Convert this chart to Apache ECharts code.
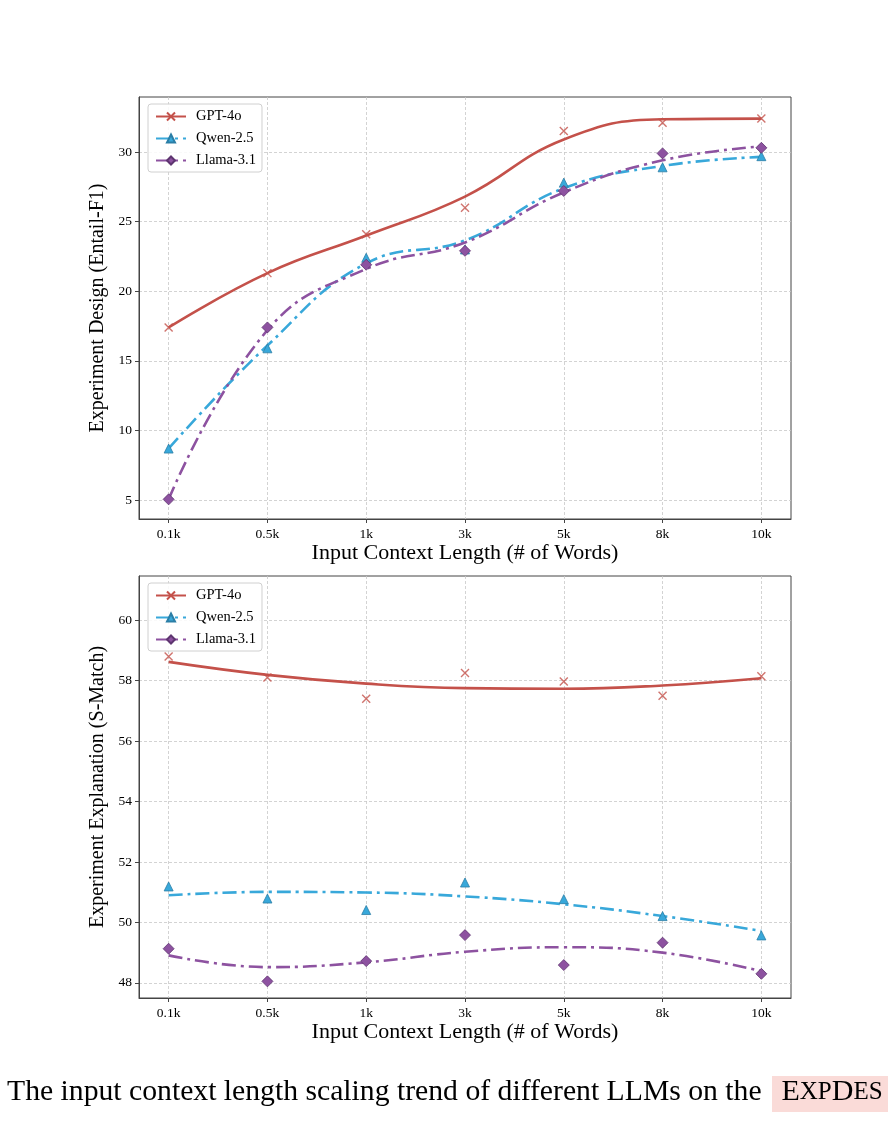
<!DOCTYPE html>
<html>
<head>
<meta charset="utf-8">
<title>Context length scaling</title>
<script src="https://cdn.jsdelivr.net/npm/echarts@6/dist/echarts.min.js"></script>
<style>
  html, body { margin: 0; padding: 0; background: #fff; }
  #chart { width: 888px; height: 1139px; }
</style>
</head>
<body>
<div id="chart"></div>
<script>
// x categories
var lengths = ['0.1k', '0.5k', '1k', '3k', '5k', '8k', '10k'];
var models = ['GPT-4o', 'Qwen-2.5', 'Llama-3.1'];

// top panel: Experiment Design (Entail-F1), measured points
var designGpt   = [17.4, 21.3, 24.1, 26.0, 31.5, 32.1, 32.4];
var designQwen  = [8.7, 15.9, 22.4, 23.0, 27.8, 28.9, 29.7];
var designLlama = [5.05, 17.4, 21.9, 22.9, 27.2, 29.9, 30.3];
// top panel: smoothed trend curves read at each tick
var designGptFit   = [17.4, 21.3, 24.0, 26.8, 30.9, 32.35, 32.4];
var designQwenFit  = [8.7, 16.1, 22.0, 23.65, 27.4, 29.0, 29.65];
var designLlamaFit = [5.05, 17.2, 21.6, 23.5, 27.1, 29.4, 30.4];

// bottom panel: Experiment Explanation (S-Match), measured points
var explGpt   = [58.8, 58.1, 57.4, 58.25, 57.97, 57.5, 58.14];
var explQwen  = [51.19, 50.79, 50.41, 51.32, 50.77, 50.21, 49.57];
var explLlama = [49.13, 48.05, 48.72, 49.58, 48.59, 49.33, 48.3];
// bottom panel: fitted trend curves read at each tick
var explGptFit   = [58.62, 58.19, 57.9, 57.75, 57.73, 57.84, 58.08];
var explQwenFit  = [50.9, 51.01, 50.99, 50.86, 50.6, 50.21, 49.72];
var explLlamaFit = [48.91, 48.52, 48.68, 49.03, 49.18, 49.0, 48.39];

var designTicks = [5, 10, 15, 20, 25, 30];
var explTicks = [48, 50, 52, 54, 56, 58, 60];

var serif = 'Liberation Serif';
var colors = ['#c4514a', '#38a8da', '#8d52a0'];
var edges = ['#c4514a', '#2b7ea6', '#5e3570'];
var symbols = ['path://M0,0L10,10M10,0L0,10', 'triangle', 'diamond'];
var sizes = [8, 9, 11];
var dashes = ['solid', [14, 5, 3, 5], [14, 5, 3, 5]];

var chart = echarts.init(document.getElementById('chart'), null, { renderer: 'canvas' });

function xAxisFor(gi) {
  return {
    type: 'value', gridIndex: gi, min: -0.3, max: 6.3,
    name: 'Input Context Length (# of Words)', nameLocation: 'middle', nameGap: 19,
    nameTextStyle: { fontFamily: serif, fontSize: 22, color: '#000' },
    axisLine: { show: true, onZero: false, lineStyle: { color: '#444', width: 1 } },
    axisTick: { show: true, length: 4, lineStyle: { color: '#444' }, customValues: [0, 1, 2, 3, 4, 5, 6] },
    axisLabel: { fontFamily: serif, fontSize: 13.5, color: '#000', margin: 8,
      customValues: [0, 1, 2, 3, 4, 5, 6],
      formatter: function (v) { return lengths[Math.round(v)]; } },
    splitLine: { show: true, lineStyle: { color: '#c8c8c8', type: [3, 2], width: 0.8 } }
  };
}

function yAxisFor(gi, lo, hi, ticks, name) {
  return {
    type: 'value', gridIndex: gi, min: lo, max: hi,
    name: name, nameLocation: 'middle', nameGap: 23,
    nameTextStyle: { fontFamily: serif, fontSize: 20, color: '#000' },
    axisLine: { show: true, onZero: false, lineStyle: { color: '#444', width: 1 } },
    axisTick: { show: true, length: 4, lineStyle: { color: '#444' }, customValues: ticks },
    axisLabel: { fontFamily: serif, fontSize: 13.5, color: '#000', margin: 7, customValues: ticks },
    splitLine: { show: true, lineStyle: { color: '#c8c8c8', type: [3, 2], width: 0.8 } }
  };
}

var series = [];
function addPanel(gi, fits, points) {
  fits.forEach(function (fit, i) {
    series.push({
      name: models[i], type: 'line', xAxisIndex: gi, yAxisIndex: gi,
      data: fit.map(function (v, k) { return [k, v]; }),
      smooth: 0.45, showSymbol: false, symbol: symbols[i], symbolSize: sizes[i],
      itemStyle: { color: colors[i], borderColor: edges[i], borderWidth: i === 0 ? 1.3 : 0.8 },
      lineStyle: { color: colors[i], width: 2.6, type: dashes[i] },
      z: 2
    });
  });
  points.forEach(function (pts, i) {
    series.push({
      name: models[i], type: 'scatter', xAxisIndex: gi, yAxisIndex: gi,
      data: pts.map(function (v, k) { return [k, v]; }),
      symbol: symbols[i], symbolSize: sizes[i],
      itemStyle: i === 0
        ? { color: 'none', borderColor: colors[0], borderWidth: 1.4 }
        : { color: colors[i], borderColor: edges[i], borderWidth: 0.8, opacity: 1 },
      z: 3
    });
  });
}
addPanel(0, [designGptFit, designQwenFit, designLlamaFit], [designGpt, designQwen, designLlama]);
addPanel(1, [explGptFit, explQwenFit, explLlamaFit], [explGpt, explQwen, explLlama]);

function legendAt(top) {
  return {
    data: models, orient: 'vertical', left: 148, top: top,
    itemWidth: 30, itemHeight: 10, itemGap: 7,
    padding: [5, 6, 4, 7],
    backgroundColor: 'rgba(255,255,255,0.85)',
    borderColor: '#d0d0d0', borderWidth: 1, borderRadius: 3,
    textStyle: { fontFamily: serif, fontSize: 14.5, color: '#000', padding: [0, 0, 0, 5] },
    selectedMode: false
  };
}

chart.setOption({
  animation: false,
  backgroundColor: '#fff',
  grid: [
    { left: 139, top: 97, width: 652, height: 422, show: true, borderColor: '#444', borderWidth: 1, backgroundColor: 'transparent' },
    { left: 139, top: 576, width: 652, height: 422, show: true, borderColor: '#444', borderWidth: 1, backgroundColor: 'transparent' }
  ],
  xAxis: [xAxisFor(0), xAxisFor(1)],
  yAxis: [
    yAxisFor(0, 3.64, 33.95, designTicks, 'Experiment Design (Entail-F1)'),
    yAxisFor(1, 47.5, 61.46, explTicks, 'Experiment Explanation (S-Match)')
  ],
  legend: [legendAt(104), legendAt(583)],
  series: series,
  graphic: [
    { type: 'rect', shape: { x: 772, y: 1076, width: 130, height: 36 }, style: { fill: '#fadbd8' }, z: 0 },
    { type: 'text', left: 7, top: 1077, z: 1,
      style: {
        text: 'The input context length scaling trend of different LLMs on the  {e|E}{s|XP}{b|D}{s|ES}',
        font: '29.7px "Liberation Serif"', fill: '#000',
        rich: {
          e: { fontFamily: serif, fontSize: 30, fill: '#000', padding: [0, 0, 0, 5] },
          b: { fontFamily: serif, fontSize: 30, fill: '#000' },
          s: { fontFamily: serif, fontSize: 25, fill: '#000' }
        }
      } }
  ]
});
</script>
</body>
</html>
